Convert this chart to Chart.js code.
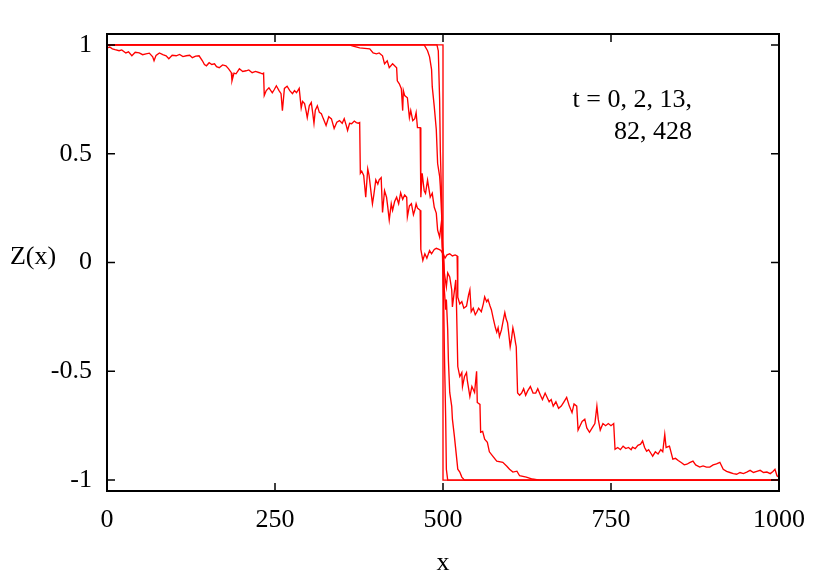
<!DOCTYPE html>
<html>
<head>
<meta charset="utf-8">
<script src="https://cdn.jsdelivr.net/npm/chart.js@4/dist/chart.umd.min.js"></script>
<style>
  body { margin: 0; background: #fff; }
  canvas { display: block; }
</style>
</head>
<body>
<canvas id="zChart" width="830" height="581"></canvas>
<script>
// tick labels
const xTicks = [0, 250, 500, 750, 1000];
const yTicks = [-1, -0.5, 0, 0.5, 1];
const legendLines = ["t = 0, 2, 13,", "82, 428"];

// Z(x) profiles, [x, Z] pairs
const z0 = [[0, 1], [500, 1], [500, -1], [1000, -1]];

const z2 = [[0, 1], [491, 1], [493, 0.973], [495, 0.744], [496, 0.515], [498, 0.286], [499, 0.057],
  [501, -0.17], [502, -0.4], [504, -0.72], [505, -0.95], [507, -1], [1000, -1]];

const z13 = [[0, 1], [472, 1], [477, 0.973], [480, 0.945], [483, 0.886], [484, 0.808], [487, 0.716],
  [490, 0.611], [492, 0.455], [495, 0.396], [496, 0.35], [498, 0.217], [499, 0.103], [501, -0.011],
  [502, -0.126], [504, -0.217], [505, -0.17], [507, -0.309], [508, -0.446], [510, -0.597], [513, -0.661],
  [514, -0.72], [517, -0.8], [520, -0.89], [522, -0.95], [525, -0.963], [528, -0.986], [532, -1], [1000, -1]];

const z82 = [[0, 1], [361, 1], [365, 0.995], [376, 0.986], [391, 0.982], [396, 0.963], [401, 0.959],
  [405, 0.963], [410, 0.95], [413, 0.913], [417, 0.927], [420, 0.895], [425, 0.913], [431, 0.895],
  [432, 0.835], [435, 0.821], [438, 0.799], [440, 0.698], [441, 0.79], [443, 0.767], [447, 0.757],
  [450, 0.666], [452, 0.698], [455, 0.652], [458, 0.661], [460, 0.689], [462, 0.62], [466, 0.62],
  [467, 0.3], [469, 0.41], [472, 0.33], [474, 0.318], [477, 0.378], [481, 0.3], [484, 0.318],
  [487, 0.254], [490, 0.227], [492, 0.149], [495, 0.117], [498, 0.195], [499, 0.071], [501, 0.034],
  [502, -0.048], [505, -0.112], [507, -0.048], [510, -0.066], [513, -0.126], [514, -0.204], [519, -0.08],
  [520, -0.185], [522, -0.478], [525, -0.524], [528, -0.506], [529, -0.57], [532, -0.524], [535, -0.506],
  [536, -0.538], [540, -0.616], [543, -0.57], [547, -0.597], [550, -0.5], [551, -0.643], [555, -0.652],
  [556, -0.78], [559, -0.776], [562, -0.812], [566, -0.826], [569, -0.87], [574, -0.89], [580, -0.913],
  [589, -0.918], [595, -0.936], [599, -0.95], [604, -0.963], [610, -0.959], [614, -0.98], [624, -0.986],
  [633, -0.995], [644, -1], [1000, -1]];

const z428 = [[0, 0.986], [4, 0.99], [8, 0.982], [12, 0.978], [18, 0.973], [22, 0.977], [28, 0.963],
  [32, 0.968], [37, 0.95], [42, 0.966], [48, 0.963], [53, 0.955], [58, 0.959], [63, 0.962], [68, 0.945],
  [70, 0.927], [73, 0.952], [78, 0.963], [83, 0.955], [88, 0.95], [92, 0.936], [97, 0.952], [103, 0.95],
  [108, 0.956], [113, 0.946], [118, 0.95], [123, 0.952], [127, 0.941], [132, 0.948], [137, 0.95],
  [142, 0.927], [145, 0.91], [148, 0.904], [152, 0.918], [156, 0.91], [160, 0.913], [163, 0.9],
  [167, 0.895], [172, 0.908], [177, 0.904], [181, 0.89], [185, 0.872], [186, 0.835], [189, 0.87],
  [192, 0.867], [197, 0.89], [202, 0.878], [207, 0.881], [211, 0.885], [216, 0.872], [221, 0.878],
  [227, 0.872], [231, 0.867], [233, 0.87],
  [234, 0.767], [237, 0.79], [241, 0.803], [246, 0.78], [249, 0.795], [252, 0.812], [256, 0.79],
  [259, 0.776], [261, 0.698], [264, 0.8], [268, 0.81], [272, 0.79], [276, 0.776], [279, 0.79],
  [282, 0.78], [286, 0.8], [289, 0.71], [291, 0.74], [294, 0.73], [296, 0.7], [298, 0.666], [301, 0.72],
  [304, 0.735], [306, 0.69], [308, 0.64], [310, 0.7], [313, 0.72], [316, 0.69], [319, 0.684], [322, 0.66],
  [326, 0.63], [330, 0.67], [334, 0.66], [338, 0.616], [342, 0.645], [346, 0.652], [350, 0.64],
  [353, 0.661], [356, 0.63], [358, 0.607], [361, 0.64], [364, 0.638], [368, 0.65], [371, 0.643],
  [374, 0.64], [376, 0.643],
  [377, 0.41], [379, 0.42], [382, 0.4], [385, 0.3], [388, 0.43], [390, 0.4], [393, 0.32], [395, 0.27],
  [397, 0.31], [400, 0.38], [403, 0.36], [405, 0.38], [408, 0.39], [410, 0.23], [413, 0.33], [416, 0.3],
  [418, 0.25], [420, 0.195], [423, 0.27], [425, 0.24], [428, 0.28], [431, 0.3], [434, 0.27], [437, 0.32],
  [440, 0.29], [443, 0.31], [446, 0.3], [447, 0.21], [450, 0.26], [453, 0.27], [456, 0.22], [458, 0.24],
  [460, 0.27], [462, 0.25], [466, 0.24],
  [467, 0.06], [470, 0.01], [473, 0.04], [476, 0.02], [480, 0.055], [483, 0.04], [487, 0.06], [490, 0.065],
  [494, 0.06], [497, 0.055], [500, 0.04], [503, 0.02], [506, 0.035], [510, 0.04], [514, 0.03],
  [518, 0.035], [521, 0.03],
  [522, -0.16], [525, -0.19], [528, -0.18], [531, -0.21], [535, -0.2], [538, -0.15], [540, -0.126],
  [542, -0.226], [545, -0.21], [548, -0.24], [550, -0.23], [553, -0.21], [557, -0.226], [560, -0.19],
  [562, -0.158], [565, -0.18], [567, -0.17], [570, -0.2], [572, -0.217], [575, -0.26], [578, -0.3],
  [580, -0.32], [582, -0.3], [584, -0.34], [587, -0.31], [590, -0.26], [592, -0.23], [594, -0.26],
  [596, -0.277], [598, -0.33], [600, -0.387], [602, -0.35], [604, -0.3], [606, -0.33], [608, -0.37],
  [609, -0.387],
  [611, -0.6], [614, -0.61], [617, -0.6], [620, -0.58], [623, -0.61], [626, -0.59], [630, -0.57],
  [634, -0.6], [638, -0.6], [641, -0.58], [645, -0.61], [648, -0.63], [652, -0.6], [655, -0.62],
  [658, -0.64], [661, -0.63], [664, -0.66], [668, -0.64], [672, -0.67], [676, -0.66], [680, -0.64],
  [684, -0.62], [688, -0.66], [692, -0.69], [695, -0.65], [699, -0.66],
  [701, -0.77], [704, -0.75], [707, -0.73], [711, -0.72], [714, -0.76], [718, -0.78], [722, -0.76],
  [726, -0.74], [729, -0.66], [731, -0.72], [734, -0.77], [738, -0.74], [742, -0.75], [746, -0.74],
  [750, -0.75], [754, -0.74],
  [756, -0.858], [760, -0.85], [764, -0.86], [768, -0.844], [772, -0.855], [776, -0.85], [780, -0.86],
  [782, -0.849], [786, -0.855], [790, -0.84], [794, -0.835], [797, -0.82], [800, -0.85], [803, -0.867],
  [806, -0.86], [810, -0.88], [812, -0.89], [816, -0.87], [820, -0.88], [824, -0.86], [827, -0.87],
  [830, -0.79], [832, -0.85], [837, -0.844], [842, -0.904], [846, -0.9], [850, -0.91], [855, -0.92],
  [859, -0.93], [863, -0.927], [867, -0.92], [872, -0.913], [876, -0.93], [882, -0.94], [887, -0.935],
  [892, -0.94], [897, -0.94], [902, -0.93], [907, -0.925], [912, -0.918], [917, -0.95], [922, -0.96],
  [927, -0.965], [932, -0.97], [937, -0.973], [942, -0.965], [947, -0.97], [952, -0.963], [957, -0.955],
  [962, -0.965], [967, -0.96], [972, -0.955], [977, -0.965], [982, -0.963], [987, -0.97], [991, -0.96],
  [994, -0.95], [997, -0.98], [1000, -0.986]];

const profiles = [z0, z2, z13, z82, z428];

const serif = '"Liberation Serif", "Times New Roman", serif';

// gnuplot style: closed frame, inward ticks on all four sides, plus free text
const framePlugin = {
  id: "frame",
  afterDatasetsDraw(chart) {
    const { ctx, chartArea: a, scales: { x, y } } = chart;
    ctx.save();
    ctx.strokeStyle = "#000";
    ctx.lineWidth = 1.5;
    ctx.beginPath();
    xTicks.forEach(v => {
      const px = x.getPixelForValue(v);
      ctx.moveTo(px, a.bottom); ctx.lineTo(px, a.bottom - 8);
      ctx.moveTo(px, a.top); ctx.lineTo(px, a.top + 8);
    });
    yTicks.forEach(v => {
      const py = y.getPixelForValue(v);
      ctx.moveTo(a.left, py); ctx.lineTo(a.left + 8, py);
      ctx.moveTo(a.right, py); ctx.lineTo(a.right - 8, py);
    });
    ctx.stroke();
    ctx.lineWidth = 2;
    ctx.strokeRect(a.left, a.top, a.right - a.left, a.bottom - a.top);

    ctx.fillStyle = "#000";
    ctx.font = "26px " + serif;
    ctx.textBaseline = "middle";
    ctx.textAlign = "center";
    ctx.fillText("Z(x)", 33, y.getPixelForValue(0) - 5);
    ctx.textAlign = "right";
    legendLines.forEach((s, i) => ctx.fillText(s, a.right - 87, a.top + 66 + i * 32));
    ctx.restore();
  }
};

const ctx = document.getElementById("zChart").getContext("2d");

new Chart(ctx, {
  type: "line",
  data: {
    datasets: profiles.map(p => ({
      data: p.map(([x, z]) => ({ x: x, y: z })),
      borderColor: "#ff0000",
      borderWidth: 1.35,
      pointRadius: 0,
      tension: 0,
      fill: false
    }))
  },
  options: {
    responsive: false,
    animation: false,
    devicePixelRatio: 1,
    layout: { padding: { top: 34, right: 51, left: 0, bottom: 0 } },
    plugins: { legend: { display: false }, tooltip: { enabled: false } },
    scales: {
      x: {
        type: "linear",
        min: 0,
        max: 1000,
        afterBuildTicks: s => { s.ticks = xTicks.map(v => ({ value: v })); },
        afterFit: s => { s.height = 90; },
        grid: { display: false, drawTicks: false },
        border: { display: false },
        ticks: { padding: 14, color: "#000", font: { family: serif, size: 26 }, maxRotation: 0,
          callback: v => String(v) },
        title: { display: true, text: "x", color: "#000", font: { family: serif, size: 26 },
          padding: { top: 0, bottom: 2 } }
      },
      y: {
        type: "linear",
        min: -1.05,
        max: 1.05,
        afterBuildTicks: s => { s.ticks = yTicks.map(v => ({ value: v })); },
        afterFit: s => { s.width = 107; },
        grid: { display: false, drawTicks: false },
        border: { display: false },
        ticks: { padding: 15, color: "#000", font: { family: serif, size: 26 },
          callback: v => String(v) }
      }
    }
  },
  plugins: [framePlugin]
});
</script>
</body>
</html>
